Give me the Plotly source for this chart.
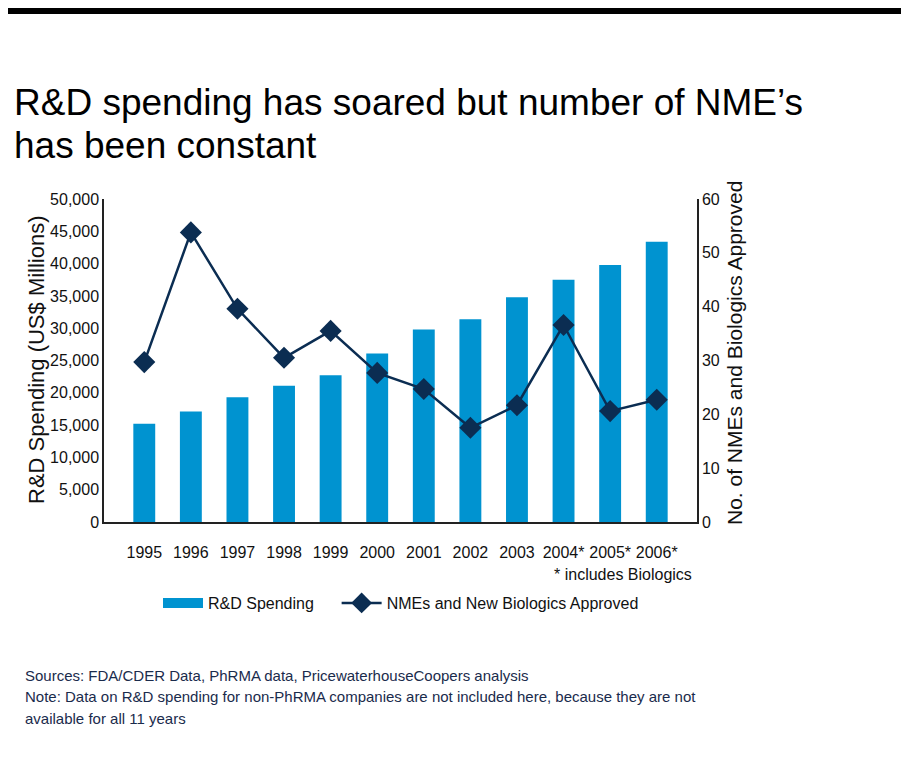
import plotly.graph_objects as go

years = ["1995", "1996", "1997", "1998", "1999", "2000", "2001", "2002", "2003", "2004*", "2005*", "2006*"]
rd_spending = [15200, 17100, 19300, 21100, 22700, 26100, 29800, 31400, 34800, 37500, 39800, 43400]
nme_approved = [29.7, 53.8, 39.6, 30.5, 35.5, 27.7, 24.7, 17.5, 21.7, 36.6, 20.6, 22.7]

BAR = "#0093D0"
NAVY = "#0B2D52"
FONT = "Liberation Sans, Arial, sans-serif"

# page offset (browser body margin)
OFF = 8
# plot area in reference pixels
L, R, T, B = 104, 697, 199, 522
W, H = 909, 762
def px(x):
    return (x - L) / (R - L)
def py(y):
    return (B - y) / (B - T)

fig = go.Figure()
fig.add_trace(go.Bar(x=years, y=rd_spending, marker=dict(color=BAR, line=dict(width=0)),
                     name="R&D Spending", showlegend=False, yaxis="y"))
fig.add_trace(go.Scatter(x=[None], y=[None], mode="lines", line=dict(color=BAR, width=12),
                         name="R&D Spending\u00a0\u00a0\u00a0\u00a0", showlegend=True))
fig.add_trace(go.Scatter(x=years, y=nme_approved, mode="lines+markers", yaxis="y2",
                         line=dict(color=NAVY, width=2.5),
                         marker=dict(symbol="diamond", size=17, color=NAVY),
                         name="NMEs and New Biologics Approved"))

annotations = [
    dict(text="R&D spending has soared but number of NME’s", x=px(12), y=py(102), xanchor="left", yanchor="middle",
         font=dict(size=37, color="#000000", family=FONT)),
    dict(text="has been constant", x=px(12), y=py(145), xanchor="left", yanchor="middle",
         font=dict(size=37, color="#000000", family=FONT)),
    dict(text="R&D Spending (US$ Millions)", x=px(36), y=py(360), textangle=-90, xanchor="center", yanchor="middle",
         font=dict(size=22, color="#111111", family=FONT)),
    dict(text="No. of NMEs and Biologics Approved", x=px(734), y=py(353), textangle=-90, xanchor="center", yanchor="middle",
         font=dict(size=21, color="#111111", family=FONT)),
    dict(text="* includes Biologics", x=px(694), y=py(574), xanchor="right", yanchor="middle",
         font=dict(size=16, color="#111111", family=FONT)),
    dict(text="Sources: FDA/CDER Data, PhRMA data, PricewaterhouseCoopers analysis", x=px(23), y=py(675), xanchor="left", yanchor="middle",
         font=dict(size=15, color="#1A2B4C", family=FONT)),
    dict(text="Note: Data on R&D spending for non-PhRMA companies are not included here, because they are not", x=px(23), y=py(696.5), xanchor="left", yanchor="middle",
         font=dict(size=15, color="#1A2B4C", family=FONT)),
    dict(text="available for all 11 years", x=px(23), y=py(718), xanchor="left", yanchor="middle",
         font=dict(size=15, color="#1A2B4C", family=FONT)),
]
for a in annotations:
    a.update(xref="paper", yref="paper", showarrow=False)

fig.update_layout(
    width=W - OFF, height=H - OFF,
    margin=dict(l=L - OFF, r=W - R, t=T - OFF, b=H - B, pad=0),
    paper_bgcolor="white", plot_bgcolor="white",
    font=dict(family=FONT, size=16, color="#111111"),
    bargap=0.53,
    showlegend=True,
    legend=dict(orientation="h", x=px(158), y=py(603), xanchor="left", yanchor="middle",
                font=dict(size=16, family=FONT, color="#111111"), bgcolor="rgba(0,0,0,0)",
                itemwidth=40, tracegroupgap=0),
    xaxis=dict(type="category", showline=True, linecolor="#222222", linewidth=1.5, ticks="",
               showgrid=False, tickfont=dict(size=16, family=FONT), ticklabelstandoff=15,
               automargin=False, fixedrange=True),
    yaxis=dict(range=[0, 50000], dtick=5000, tickformat=",", showline=True, linecolor="#222222",
               linewidth=1.5, ticks="", showgrid=False, zeroline=False, tickfont=dict(size=16, family=FONT),
               automargin=False),
    yaxis2=dict(range=[0, 60], dtick=10, overlaying="y", side="right", showline=True, linecolor="#222222",
                linewidth=1.5, ticks="", showgrid=False, zeroline=False, tickfont=dict(size=16, family=FONT),
                automargin=False),
    annotations=annotations,
    shapes=[dict(type="rect", xref="paper", yref="paper", x0=px(-5), x1=px(W + 5), y0=py(14), y1=py(3),
                 fillcolor="#000000", line=dict(width=0), layer="above")],
)

fig.write_html("out.html")
